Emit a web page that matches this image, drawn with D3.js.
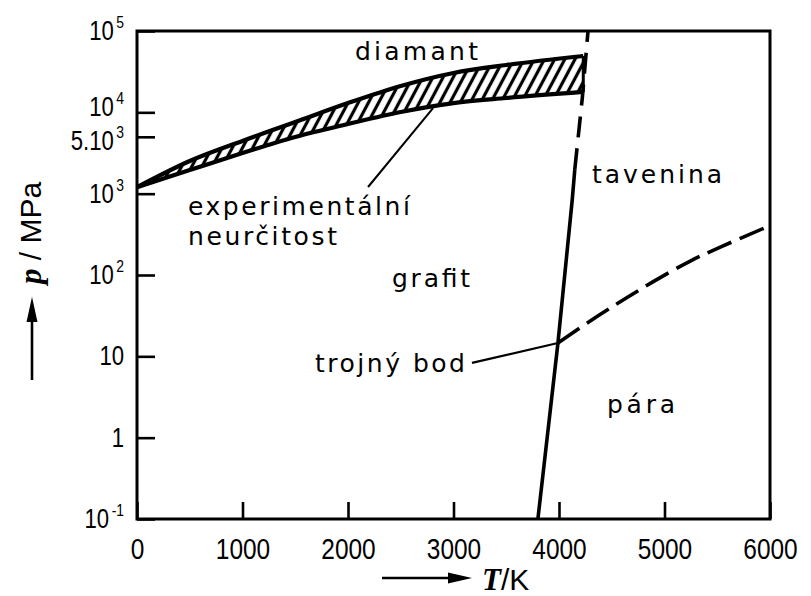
<!DOCTYPE html>
<html>
<head>
<meta charset="utf-8">
<script src="https://cdn.jsdelivr.net/npm/d3@7"></script>
<style>
  html, body { margin: 0; padding: 0; background: #fff; }
  svg { display: block; }
  .num { font-family: 'Liberation Sans', 'DejaVu Sans', sans-serif; fill: #000; }
  .lbl { font-family: 'DejaVu Sans', sans-serif; font-size: 25px; fill: #000; }
  .sym { font-family: 'Liberation Serif', 'DejaVu Serif', serif; font-style: italic; font-weight: bold; }
</style>
</head>
<body>
<svg id="chart" width="811" height="596"></svg>
<script>
// ---- axis ticks ----
const xTicks = [0, 1000, 2000, 3000, 4000, 5000, 6000];
const yTicks = [0.1, 1, 10, 100, 1000, 5000, 10000, 100000];
const yTickBase = ["10", "1", "10", "10", "10", "5.10", "10", "10"];
const yTickExp  = ["-1", "", "", "2", "3", "3", "4", "5"];

// ---- graphite / diamond boundary with its uncertainty band (T in K, p in MPa) ----
const bandT      = [0, 500, 1000, 1500, 2000, 2500, 3000, 3500, 4230];
const bandUpperP = [1200, 2520, 4450, 7600, 13000, 21100, 30500, 38200, 49300];
const bandLowerP = [1200, 1950, 3160, 4980, 7190, 10100, 13000, 15000, 17800];

// ---- melting curve of graphite (solid part, then dashed extrapolation) ----
const meltSolidT = [3800, 3990, 4125, 4150];
const meltSolidP = [0.1, 14.6, 830, 2000];
const meltDashT  = [4150, 4222, 4275];
const meltDashP  = [2000, 15500, 100000];

// ---- liquid / vapour curve starting at the triple point ----
const vapT = [3990, 4360, 4630, 4910, 5240, 5545, 6000];
const vapP = [14.6, 30.9, 51.3, 85.3, 147.5, 225, 405];

// ---- triple point ----
const tripleT = 3990, tripleP = 14.6;

// ---- phase names ----
const phaseNames = ["diamant", "tavenina", "experimentální", "neurčitost", "grafit", "trojný bod", "pára"];

// ---------------------------------------------------------------
const svg = d3.select("#chart");
const x = d3.scaleLinear().domain([0, 6000]).range([137, 770]);
const y = d3.scaleLog().domain([0.1, 100000]).range([519, 31]);

// hatch pattern for the uncertainty band
const defs = svg.append("defs");
const pat = defs.append("pattern")
  .attr("id", "hatch").attr("patternUnits", "userSpaceOnUse")
  .attr("width", 9).attr("height", 9)
  .attr("patternTransform", "rotate(28)");
pat.append("rect").attr("width", 9).attr("height", 9).attr("fill", "#fff");
pat.append("line").attr("x1", 4.5).attr("y1", -1).attr("x2", 4.5).attr("y2", 10)
  .attr("stroke", "#000").attr("stroke-width", 3.2);

// x axis (ticks pointing into the plot)
const gx = svg.append("g").attr("transform", `translate(0,${y.range()[0]})`)
  .call(d3.axisBottom(x).tickValues(xTicks).tickSizeInner(-17).tickSizeOuter(0)
    .tickPadding(19).tickFormat(d3.format("d")));
gx.select(".domain").remove();
gx.selectAll(".tick line").attr("stroke", "#000").attr("stroke-width", 2.6);
gx.selectAll(".tick text").attr("class", "num").style("font-size", "29px")
  .attr("fill", "#000")
  .attr("textLength", function () { return this.textContent.length * 13.6; })
  .attr("lengthAdjust", "spacingAndGlyphs");

// y axis (log scale, ticks pointing into the plot); labels narrowed horizontally,
// the two crowded labels near 10^4 nudged apart vertically
const narrow = 0.82;
const yLabelNudge = [0, 0, 0, 0, 0, 4, -5, 0];
const gy = svg.append("g").attr("transform", `translate(${x.range()[0]},0)`)
  .call(d3.axisLeft(y).tickValues(yTicks).tickSizeInner(-18).tickSizeOuter(0)
    .tickPadding(13).tickFormat(() => ""));
gy.select(".domain").remove();
gy.selectAll(".tick line").attr("stroke", "#000").attr("stroke-width", 2.6);
gy.selectAll(".tick text").each(function (d, i) {
  const t = d3.select(this).attr("class", "num").style("font-size", "27px").attr("fill", "#000")
    .attr("x", -13 / narrow).attr("y", yLabelNudge[i])
    .attr("transform", `scale(${narrow},1)`);
  t.text(null);
  t.append("tspan").text(yTickBase[i]);
  if (yTickExp[i]) {
    t.append("tspan").attr("dx", 3).attr("dy", -12).style("font-size", "17px").text(yTickExp[i]);
  }
});

// plot frame
svg.append("rect")
  .attr("x", x.range()[0]).attr("y", y.range()[1])
  .attr("width", x.range()[1] - x.range()[0]).attr("height", y.range()[0] - y.range()[1])
  .attr("fill", "none").attr("stroke", "#000").attr("stroke-width", 3);

// uncertainty band
const bandData = bandT.map((t, i) => ({ t, lo: bandLowerP[i], hi: bandUpperP[i] }));
svg.append("path").datum(bandData)
  .attr("d", d3.area().x(d => x(d.t)).y0(d => y(d.lo)).y1(d => y(d.hi)).curve(d3.curveMonotoneX))
  .attr("fill", "url(#hatch)");
const edge = d3.line().x(d => x(d[0])).y(d => y(d[1])).curve(d3.curveMonotoneX);
svg.append("path").datum(bandT.map((t, i) => [t, bandUpperP[i]]))
  .attr("d", edge).attr("fill", "none").attr("stroke", "#000").attr("stroke-width", 4.2);
svg.append("path").datum(bandT.map((t, i) => [t, bandLowerP[i]]))
  .attr("d", edge).attr("fill", "none").attr("stroke", "#000").attr("stroke-width", 4.2);
const last = bandT.length - 1;
svg.append("path")
  .datum([[bandT[last], bandLowerP[last]], [bandT[last], bandUpperP[last]]])
  .attr("d", d3.line().x(d => x(d[0])).y(d => y(d[1])))
  .attr("fill", "none").attr("stroke", "#000").attr("stroke-width", 3);

// melting curve
const straight = d3.line().x(d => x(d[0])).y(d => y(d[1]));
svg.append("path").datum(meltSolidT.map((t, i) => [t, meltSolidP[i]]))
  .attr("d", straight).attr("fill", "none").attr("stroke", "#000").attr("stroke-width", 3.6);
svg.append("path").datum(meltDashT.map((t, i) => [t, meltDashP[i]]))
  .attr("d", straight).attr("fill", "none").attr("stroke", "#000").attr("stroke-width", 3.6)
  .attr("stroke-dasharray", "21,11");

// vapour curve
svg.append("path").datum(vapT.map((t, i) => [t, vapP[i]]))
  .attr("d", d3.line().x(d => x(d[0])).y(d => y(d[1])).curve(d3.curveCatmullRom))
  .attr("fill", "none").attr("stroke", "#000").attr("stroke-width", 3.6)
  .attr("stroke-dasharray", "26,9");

// leader lines
svg.append("path").datum([[2190, 1208], [2806, 11300]])
  .attr("d", straight).attr("fill", "none").attr("stroke", "#000").attr("stroke-width", 2);
svg.append("path").datum([[3175, 8.3], [tripleT, tripleP]])
  .attr("d", straight).attr("fill", "none").attr("stroke", "#000").attr("stroke-width", 2.2);

// phase names: [name index, T, p, text length]
const nameLayout = [
  [0, 2066, 44050, 123],
  [1, 4313, 1353, 130],
  [2, 483, 547, 222],
  [3, 483, 234, 149],
  [4, 2417, 71.3, 78],
  [5, 1687, 6.42, 150],
  [6, 4455, 2.0, 68]
];
svg.selectAll("text.lbl").data(nameLayout).join("text")
  .attr("class", "lbl")
  .attr("x", d => x(d[1])).attr("y", d => y(d[2]))
  .attr("textLength", d => d[3]).attr("lengthAdjust", "spacing")
  .text(d => phaseNames[d[0]]);

// axis titles with arrows
const tx = svg.append("text").attr("x", 482).attr("y", 590).attr("fill", "#000");
tx.append("tspan").attr("class", "sym").style("font-size", "31px").text("T");
tx.append("tspan").attr("class", "num").style("font-size", "30px").text("/K");

svg.append("line").attr("x1", 382).attr("y1", 578).attr("x2", 452).attr("y2", 578)
  .attr("stroke", "#000").attr("stroke-width", 2.6);
svg.append("path").attr("d", "M472,578 L448,572.5 L448,583.5 Z").attr("fill", "#000");

const ty = svg.append("text").attr("transform", "translate(41,284) rotate(-90)").attr("fill", "#000");
ty.append("tspan").attr("class", "sym").style("font-size", "31px").text("p");
ty.append("tspan").attr("class", "num").style("font-size", "30px").text(" / MPa");

svg.append("line").attr("x1", 32).attr("y1", 380).attr("x2", 32).attr("y2", 318)
  .attr("stroke", "#000").attr("stroke-width", 2.6);
svg.append("path").attr("d", "M32,297 L26.5,322 L37.5,322 Z").attr("fill", "#000");
</script>
</body>
</html>
